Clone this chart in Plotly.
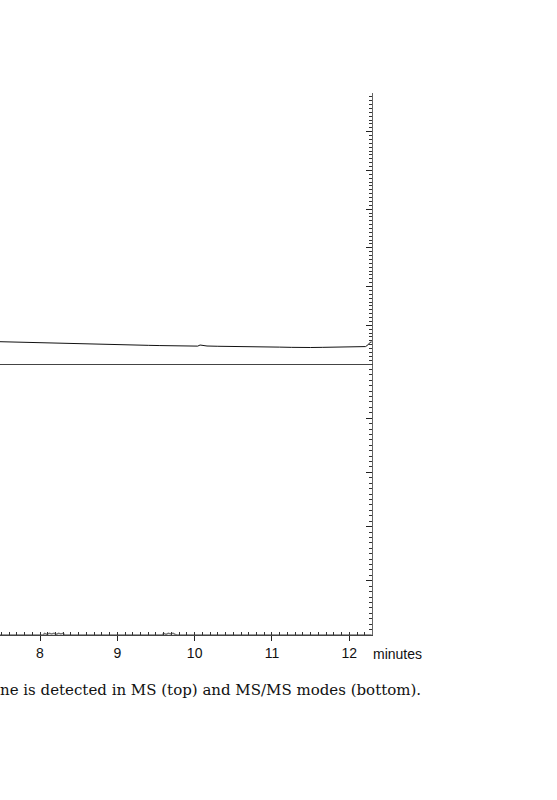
import plotly.graph_objects as go

# ---- data ----
ms_time = [7.48, 7.55, 7.65, 7.75, 7.85, 7.95, 8.05, 8.13, 8.25, 8.40, 8.55, 8.70, 8.77,
           8.90, 9.05, 9.20, 9.29, 9.40, 9.55, 9.64, 9.75, 9.88, 9.98, 10.04, 10.07, 10.11,
           10.16, 10.30, 10.49, 10.65, 10.80, 10.93, 11.10, 11.25, 11.36, 11.50, 11.65,
           11.79, 11.95, 12.10, 12.18, 12.21, 12.24, 12.27, 12.29]
ms_signal = [0.576, 0.572, 0.578, 0.566, 0.560, 0.558, 0.552, 0.550, 0.542, 0.535, 0.528,
             0.520, 0.517, 0.508, 0.500, 0.490, 0.483, 0.482, 0.476, 0.473, 0.470, 0.462,
             0.457, 0.462, 0.490, 0.470, 0.465, 0.458, 0.457, 0.452, 0.446, 0.440, 0.436,
             0.430, 0.421, 0.426, 0.430, 0.432, 0.428, 0.438, 0.440, 0.450, 0.490, 0.560,
             0.570]

msms_time = [7.48, 8.04, 8.06, 8.09, 8.12, 8.15, 8.18, 8.21, 8.24, 8.27, 8.30, 8.32,
             9.58, 9.60, 9.63, 9.66, 9.69, 9.72, 9.75, 9.77, 12.29]
msms_signal = [0.0, 0.0, 0.03, 0.01, 0.03, 0.02, 0.03, 0.01, 0.03, 0.02, 0.03, 0.0,
               0.0, 0.03, 0.01, 0.03, 0.02, 0.03, 0.01, 0.0, 0.0]

x_range = [7.4825, 12.294]
x_ticks = [8, 9, 10, 11, 12]
top_range = [0, 7]
bottom_range = [0, 5]

fig = go.Figure()
fig.add_trace(go.Scatter(x=ms_time, y=ms_signal, mode="lines",
                         line=dict(color="#111111", width=1), xaxis="x2", yaxis="y2",
                         hoverinfo="skip"))
fig.add_trace(go.Scatter(x=msms_time, y=msms_signal, mode="lines",
                         line=dict(color="#777777", width=1.5), xaxis="x", yaxis="y",
                         hoverinfo="skip"))

axis_font = dict(family="Liberation Sans, Arial, sans-serif", size=14, color="#111111")

fig.update_layout(
    width=557, height=800,
    margin=dict(l=0, r=185, t=93, b=165),
    paper_bgcolor="white", plot_bgcolor="white",
    showlegend=False,
    xaxis=dict(domain=[0, 1], anchor="y", range=x_range, tickvals=x_ticks,
               showline=True, linecolor="#444444", linewidth=1,
               ticks="outside", ticklen=5, tickwidth=1, tickcolor="#222222",
               minor=dict(dtick=0.1, ticks="inside", ticklen=3, tickwidth=1,
                          tickcolor="#333333", showgrid=False),
               showgrid=False, zeroline=False, tickfont=axis_font),
    xaxis2=dict(domain=[0, 1], anchor="y2", range=x_range, matches="x",
                showline=True, linecolor="#444444", linewidth=1.2,
                ticks="", showticklabels=False, showgrid=False, zeroline=False),
    yaxis=dict(domain=[0, 0.5], anchor="x", side="right", range=bottom_range, dtick=1,
               showline=True, linecolor="#666666", linewidth=1.3,
               ticks="inside", ticklen=6, tickwidth=1, tickcolor="#222222",
               minor=dict(dtick=0.1, ticks="inside", ticklen=2.5, tickwidth=1.2,
                          tickcolor="#333333", showgrid=False),
               showticklabels=False, showgrid=False, zeroline=False),
    yaxis2=dict(domain=[0.5, 1], anchor="x2", side="right", range=top_range, dtick=1,
                showline=True, linecolor="#666666", linewidth=1.3,
                ticks="inside", ticklen=6, tickwidth=1, tickcolor="#222222",
                minor=dict(dtick=0.1, ticks="inside", ticklen=2.5, tickwidth=1.2,
                           tickcolor="#333333", showgrid=False),
                showticklabels=False, showgrid=False, zeroline=False),
)

fig.add_annotation(text="minutes", xref="paper", yref="paper", x=1, y=0,
                   xanchor="left", yanchor="top", xshift=-1, yshift=-9,
                   showarrow=False, font=axis_font)
fig.add_annotation(text="ne is detected in MS (top) and MS/MS modes (bottom).",
                   xref="paper", yref="paper", x=0, y=0,
                   xanchor="left", yanchor="top", xshift=-2, yshift=-44,
                   showarrow=False,
                   font=dict(family="DejaVu Serif, Liberation Serif, serif", size=15,
                             color="#111111"))

fig.write_html("out.html", config={"displayModeBar": False},
               post_script="document.body.style.margin='0';document.body.style.overflow='hidden';")
